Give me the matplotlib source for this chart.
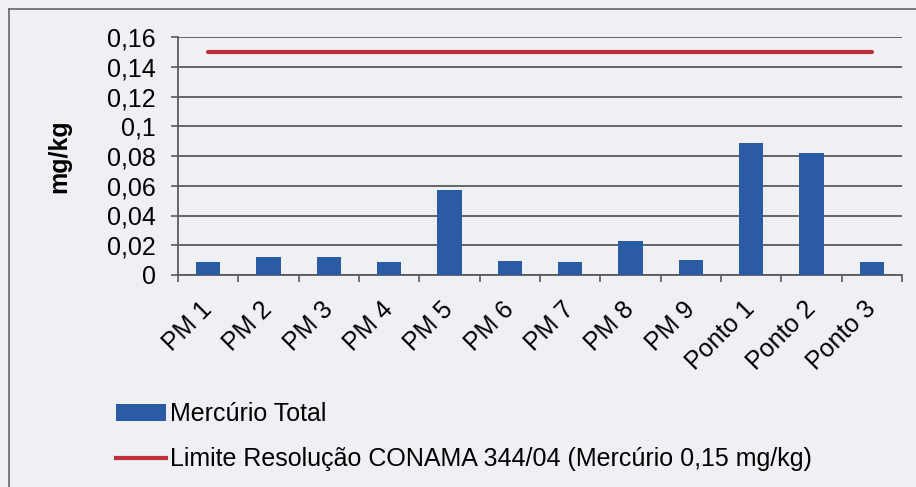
import matplotlib
matplotlib.use("Agg")
import matplotlib.pyplot as plt
import numpy as np
from matplotlib.lines import Line2D
from matplotlib.patches import Patch

plt.rcParams['font.family'] = ['Liberation Sans', 'DejaVu Sans']

# Data
categories = ["PM 1", "PM 2", "PM 3", "PM 4", "PM 5", "PM 6", "PM 7", "PM 8", "PM 9",
              "Ponto 1", "Ponto 2", "Ponto 3"]
mercurio_total = [0.009, 0.012, 0.0118, 0.0088, 0.057, 0.0094, 0.0086, 0.023, 0.0099,
                  0.0885, 0.0823, 0.0089]
limite_conama = [0.15] * len(categories)
y_ticks = [0, 0.02, 0.04, 0.06, 0.08, 0.1, 0.12, 0.14, 0.16]
y_tick_labels = ["0", "0,02", "0,04", "0,06", "0,08", "0,1", "0,12", "0,14", "0,16"]

bg = "#eef0f4"
bar_color = "#2b5ba5"
line_color = "#c0303a"
grid_color = "#5a5a5a"
fs = 18

fig = plt.figure(figsize=(9.16, 4.87), dpi=100, facecolor=bg)
ax = fig.add_axes([178 / 916, 1 - 275 / 487, (902 - 178) / 916, (275 - 37) / 487])
ax.set_facecolor(bg)

x = np.arange(len(categories))
ax.bar(x, mercurio_total, width=0.4, color=bar_color, zorder=3)
ax.plot(x, limite_conama, color=line_color, linewidth=3, solid_capstyle='round', zorder=4)

ax.set_xlim(-0.5, len(categories) - 0.5)
ax.set_ylim(0, 0.16)
ax.set_yticks(y_ticks)
ax.set_yticklabels(y_tick_labels, fontsize=fs)
ax.yaxis.grid(True, color=grid_color, linewidth=1.3, zorder=0)
ax.set_axisbelow(True)

# category boundaries get the ticks, labels sit at centres
ax.set_xticks(np.arange(-0.5, len(categories), 1.0))
ax.set_xticklabels([])
ax.set_xticks(x, minor=True)
ax.set_xticklabels(categories, minor=True, fontsize=fs, rotation=45,
                   ha='right', va='center', rotation_mode='anchor')
ax.tick_params(axis='x', which='minor', length=0, pad=22)
ax.tick_params(axis='x', which='major', length=5, width=1.2, color=grid_color, direction='out')
ax.tick_params(axis='y', length=5, width=1.2, color=grid_color, direction='out', pad=11)

for side in ['top', 'right']:
    ax.spines[side].set_visible(False)
for side in ['left', 'bottom']:
    ax.spines[side].set_color(grid_color)
    ax.spines[side].set_linewidth(1.3)

ax.set_ylabel("mg/kg", fontsize=fs, fontweight='bold', labelpad=26)

handles = [
    Patch(facecolor=bar_color, edgecolor='none', label="Mercúrio Total"),
    Line2D([0], [0], color=line_color, linewidth=3, label="Limite Resolução CONAMA 344/04 (Mercúrio 0,15 mg/kg)"),
]
fig.legend(handles=handles, loc='upper left', bbox_to_anchor=(106 / 916, 1 - 392 / 487),
           frameon=False, fontsize=fs, handlelength=2.0, handletextpad=0.15,
           labelspacing=0.85, borderaxespad=0)

# outer chart frame (left and top edges)
fig.add_artist(Line2D([9 / 916, 9 / 916], [0, 1 - 9 / 487], color="#666666", linewidth=1.2))
fig.add_artist(Line2D([9 / 916, 1], [1 - 9 / 487, 1 - 9 / 487], color="#666666", linewidth=1.2))

fig.savefig("out.png", dpi=100, facecolor=bg)
